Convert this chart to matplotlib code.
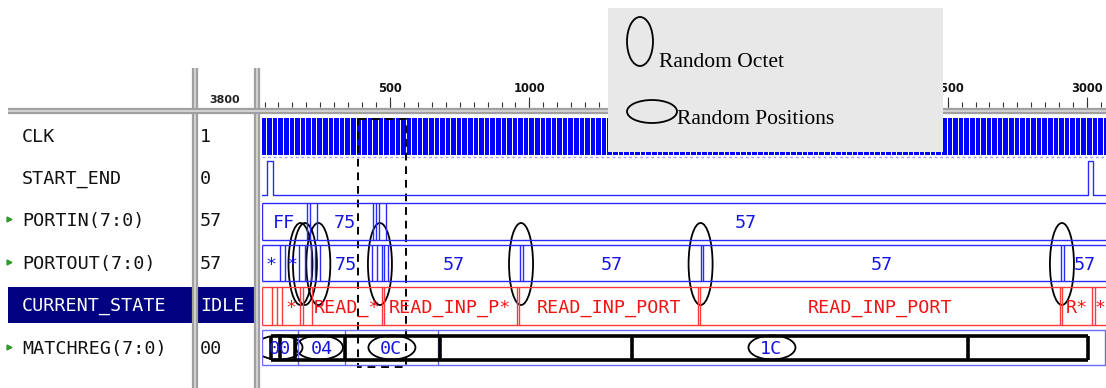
import matplotlib
matplotlib.use("Agg")
import matplotlib.pyplot as plt
from matplotlib.patches import Ellipse, Rectangle
import numpy as np

# ---- data ----
names = ["CLK", "START_END", "PORTIN(7:0)", "PORTOUT(7:0)", "CURRENT_STATE", "MATCHREG(7:0)"]
cursor_vals = ["1", "0", "57", "57", "IDLE", "00"]
expandable = [False, False, True, True, False, True]
cursor_time = "3800"

t_view = (41, 3068)
ruler_marks = [500, 1000, 1500, 2000, 2500, 3000]
ruler_minor = 50

clk_period = 20
clk_first_edge = 40

start_end_pulses = [(60, 80), (3005, 3022)]

portin_times = [41, 202, 213, 238, 439, 450, 460, 485]
portin_labels = ["FF", "", "", "75", "", "", "", "57"]

portout_times = [41, 105, 125, 175, 195, 215, 230, 250, 435, 455, 470, 480, 493,
                 966, 977, 1616, 1623, 2907, 2917]
portout_labels = ["*", "", "*", "", "", "", "", "75", "", "", "", "", "57",
                  "", "57", "", "57", "", "57"]

state_times = [41, 77, 95, 113, 177, 188, 220, 471, 478, 955, 963, 1605, 1612,
               2903, 2910, 3018, 3029]
state_labels = ["", "", "", "*", "", "", "READ_*", "", "READ_INP_P*", "",
                "READ_INP_PORT", "", "READ_INP_PORT", "", "R*", "", "*"]

matchreg_times = [41, 171, 338, 672, 3064]
matchreg_labels = ["00", "04", "0C", "1C", ""]

# annotations drawn over the screenshot
octet_box_bounds = [73, 106, 159, 338, 679, 1368, 2573, 3004]
octet_ellipses_t = [179, 195, 243, 464, 970, 1614, 2910]
position_ellipses_t = [102, 247, 507, 1870]
zoom_window_t = (385, 557)

BLUE = "#2a2aff"
BLUE_TXT = "#1414e6"
RED = "#ff3a3a"
RED_TXT = "#f01414"
GRAY = "#a0a0a0"
MONO = "DejaVu Sans Mono"
FS = 13.2

fig = plt.figure(figsize=(11.06, 3.88), dpi=100)
fig.patch.set_facecolor("white")

# base layer in pixel units: name / value columns and separators
ax = fig.add_axes([0, 0, 1, 1])
ax.set_xlim(0, 1106)
ax.set_ylim(388, 0)
ax.axis("off")

row_y = [135, 177, 219, 262, 304, 347]

# highlighted row
ax.add_patch(Rectangle((8, 287), 184, 36, color="#000080", lw=0))
ax.add_patch(Rectangle((197, 287), 57, 36, color="#000080", lw=0))

for i, (n, v) in enumerate(zip(names, cursor_vals)):
    col = "white" if n == "CURRENT_STATE" else "#111111"
    ax.text(22, row_y[i] + 7, n, family=MONO, fontsize=FS, color=col, va="baseline")
    ax.text(200, row_y[i] + 7, v, family=MONO, fontsize=FS, color=col, va="baseline")
    if expandable[i]:
        ax.plot(9, row_y[i], marker=">", ms=3.5, color="#2a9a2a", mec="#2a9a2a")

ax.text(225, 100, cursor_time, fontsize=8, weight="bold", ha="center", va="center", color="#222222")

# gray double separators
for x in (194.5, 256.5):
    ax.vlines(x, 68, 388, color=GRAY, lw=4.5)
    ax.vlines(x, 68, 388, color="#dcdcdc", lw=1.2)
ax.hlines(110.5, 8, 1106, color=GRAY, lw=4.5)
ax.hlines(110.5, 8, 1106, color="#dcdcdc", lw=1.2)

# waveform layer in time units
wx = fig.add_axes([262 / 1106, 0, (1106 - 262) / 1106, 1])
wx.set_xlim(*t_view)
wx.set_ylim(388, 0)
wx.axis("off")

# ruler
minor = np.arange(ruler_minor, t_view[1], ruler_minor)
wx.vlines(minor, 102, 107, color="#333333", lw=0.8)
wx.vlines(ruler_marks, 97, 107, color="#333333", lw=0.8)
for m in ruler_marks:
    wx.text(m, 88, str(m), fontsize=8.3, weight="bold", ha="center", va="center", color="#111111")

# CLK: compressed clock shows as a solid band
edges = np.arange(clk_first_edge, t_view[1], clk_period)
wx.bar(edges, 37, bottom=118, width=clk_period * 0.82, align="edge", color="#0000ff", lw=0)
wx.hlines(157, t_view[0], t_view[1], color="#9c9cff", lw=1, linestyles=(0, (2, 2)))

# START_END
xs, ys = [t_view[0]], [195]
for a, b in start_end_pulses:
    xs += [a, a, b, b]
    ys += [195, 161, 161, 195]
xs.append(t_view[1])
ys.append(195)
wx.plot(xs, ys, color=BLUE, lw=1)


def draw_bus(times, labels, ytop, ybot, lc, tc, lw=1.0):
    wx.hlines([ytop, ybot], times[0], t_view[1], color=lc, lw=lw)
    wx.vlines(times, ytop, ybot, color=lc, lw=lw)
    ends = times[1:] + [t_view[1]]
    for a, b, lab in zip(times, ends, labels):
        if lab:
            wx.text((a + b) / 2, (ytop + ybot) / 2 + 7, lab, family=MONO, fontsize=FS,
                    color=tc, ha="center", va="baseline")


draw_bus(portin_times, portin_labels, 203, 240, BLUE, BLUE_TXT)
draw_bus(portout_times, portout_labels, 245, 281, BLUE, BLUE_TXT)
draw_bus(state_times, state_labels, 287, 325, RED, RED_TXT)
draw_bus(matchreg_times, matchreg_labels, 330, 365, "#6a6aff", BLUE_TXT)

# hand-drawn octet boxes on MATCHREG
wx.hlines([336, 360], octet_box_bounds[0], octet_box_bounds[-1], color="black", lw=2.6)
wx.vlines(octet_box_bounds, 336, 360, color="black", lw=2.6)

# ellipses
px = 1 / 0.2788  # time units per pixel
for t in octet_ellipses_t:
    wx.add_patch(Ellipse((t, 264), 24 * px, 82, fill=False, ec="black", lw=1.3))
for t in position_ellipses_t:
    wx.add_patch(Ellipse((t, 347.5), 47 * px, 24, fill=False, ec="black", lw=1.3))

wx.add_patch(Rectangle((zoom_window_t[0], 119), zoom_window_t[1] - zoom_window_t[0], 248,
                       fill=False, ec="black", lw=1.4, ls=(0, (4, 3))))

# legend overlay
ov = fig.add_axes([0, 0, 1, 1], zorder=5)
ov.set_xlim(0, 1106)
ov.set_ylim(388, 0)
ov.axis("off")
ov.patch.set_alpha(0)
ov.add_patch(Rectangle((608, 8), 335, 144, color="#e8e8e8", lw=0))
ov.add_patch(Ellipse((640, 41.5), 26, 49, fill=False, ec="black", lw=1.3))
ov.text(659, 67, "Random Octet", family="Liberation Serif", fontsize=15.5, va="baseline")
ov.add_patch(Ellipse((652, 111.5), 50, 23, fill=False, ec="black", lw=1.3))
ov.text(677, 124, "Random Positions", family="Liberation Serif", fontsize=15.5, va="baseline")

fig.savefig("out.png", dpi=100)
